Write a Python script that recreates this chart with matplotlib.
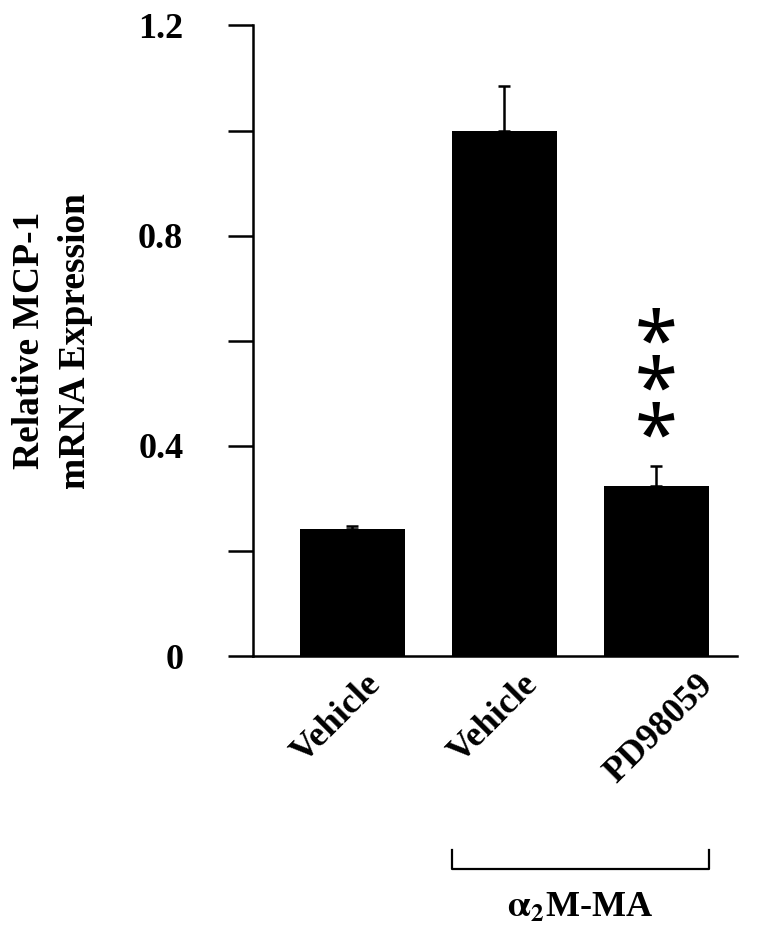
import matplotlib
matplotlib.use('Agg')
import matplotlib.pyplot as plt
import matplotlib.transforms as mtransforms

# Datos del grafico
grupos = ['Vehicle', 'Vehicle', 'PD98059']
expresion = [0.241, 1.0, 0.324]
error = [0.007, 0.085, 0.038]
y_ticks = [0, 0.2, 0.4, 0.6, 0.8, 1.0, 1.2]
y_labels = ['0', '', '0.4', '', '0.8', '', '1.2']
tratamiento = r'$\mathrm{\alpha}_{2}$M-MA'
significancia = '*\n*\n*'

plt.rcParams['font.family'] = ['Liberation Serif', 'DejaVu Serif']
plt.rcParams['font.weight'] = 'bold'
plt.rcParams['mathtext.fontset'] = 'stix'

fig = plt.figure(figsize=(7.66, 9.40), dpi=100)
ax = fig.add_axes([0.330, 0.302, 0.632, 0.671])

x = list(range(len(grupos)))
ax.bar(x, expresion, width=0.69, color='black', edgecolor='black', linewidth=0)
ax.errorbar(x, expresion, yerr=[[0] * len(x), error], fmt='none', ecolor='black',
            elinewidth=1.8, capsize=4.5, capthick=1.8)

ax.set_xlim(-0.655, 2.53)
ax.set_ylim(0, 1.2)
ax.set_yticks(y_ticks)
ax.set_yticklabels(y_labels, fontsize=26, fontweight='bold')
ax.tick_params(axis='y', direction='out', length=18, width=1.8, pad=32)
ax.set_xticks([])
ax.spines['top'].set_visible(False)
ax.spines['right'].set_visible(False)
ax.spines['left'].set_linewidth(1.8)
ax.spines['bottom'].set_linewidth(1.8)

# Etiquetas rotadas del eje x
desplazamiento = [0.235, 0.265, 0.415]
trans = mtransforms.blended_transform_factory(ax.transData, ax.transAxes)
for i, g in enumerate(grupos):
    ax.text(i + desplazamiento[i], -0.019, g, transform=trans, rotation=45,
            ha='right', va='top', fontsize=26, fontweight='bold')

# Etiqueta del eje y
ax.text(-0.413, 0.5, 'Relative MCP-1\nmRNA Expression', transform=ax.transAxes,
        rotation=90, ha='center', va='center', fontsize=27, fontweight='bold',
        linespacing=1.4, multialignment='center')

# Asteriscos de significancia sobre la tercera barra
tope = expresion[2] + error[2]
off = mtransforms.offset_copy(ax.transData, fig=fig, x=0, y=51.5, units='points')
ax.text(2, tope, significancia, transform=off, ha='center', va='center',
        fontsize=56, fontweight='bold', family='Noto Sans', linespacing=0.47)

# Corchete del tratamiento
x0 = 1 - 0.345
x1 = 2 + 0.345
ax.plot([x0, x0, x1, x1], [-0.307, -0.3376, -0.3376, -0.307], transform=trans,
        color='black', linewidth=1.6, clip_on=False)
ax.text((x0 + x1) / 2, -0.40, tratamiento, transform=trans, ha='center', va='center',
        fontsize=26, fontweight='bold')

fig.savefig('out.png', dpi=100)
